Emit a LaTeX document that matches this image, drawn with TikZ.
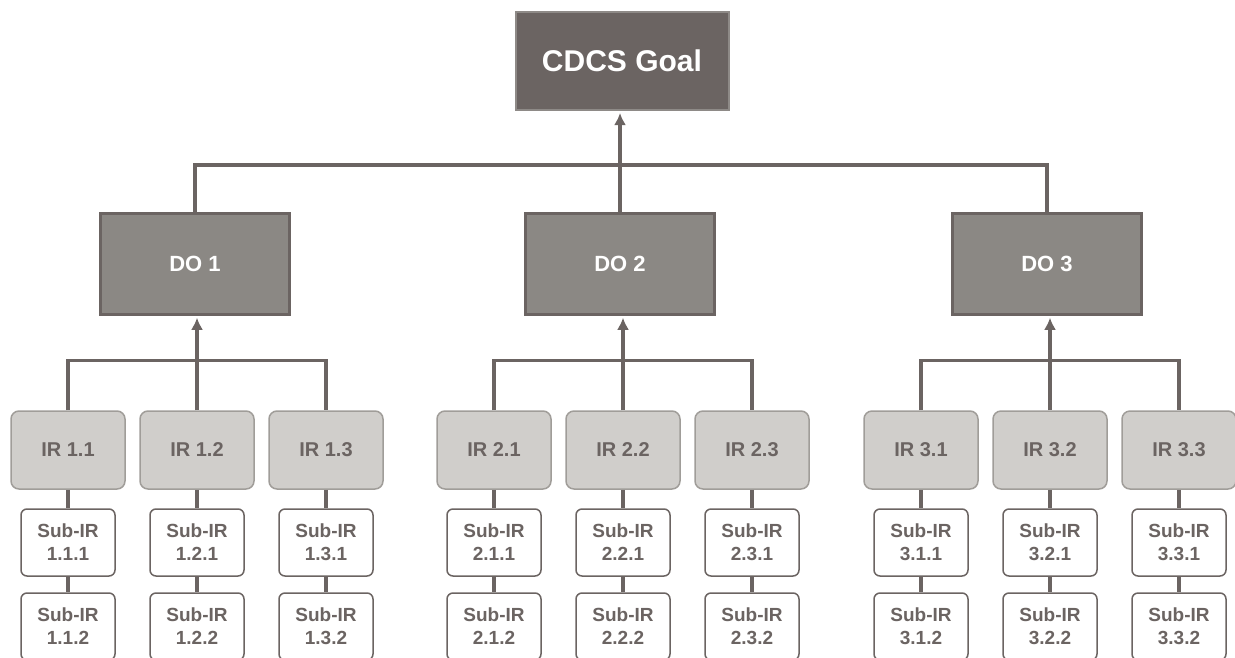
\documentclass[tikz,border=0pt]{standalone}
\usepackage{fontspec}
\setmainfont{Liberation Sans}
\usetikzlibrary{arrows.meta,positioning}

\definecolor{goalfill}{HTML}{6B6462}
\definecolor{goalline}{HTML}{8E8A87}
\definecolor{dofill}{HTML}{8B8884}
\definecolor{irfill}{HTML}{D0CECB}
\definecolor{irline}{HTML}{A09D99}
\definecolor{ink}{HTML}{6B6462}

\tikzset{
  goalbox/.style={draw=goalline, line width=2pt, fill=goalfill, text=white,
    minimum width=213pt, minimum height=98pt, font=\fontsize{30}{36}\selectfont\bfseries},
  dobox/.style={draw=ink, line width=2.5pt, fill=dofill, text=white,
    minimum width=189pt, minimum height=101pt, font=\fontsize{22}{26}\selectfont\bfseries},
  irbox/.style={draw=irline, line width=1.5pt, fill=irfill, text=ink, rounded corners=8pt,
    minimum width=114pt, minimum height=78pt, font=\fontsize{20}{24}\selectfont\bfseries},
  subbox/.style={draw=ink, line width=1.5pt, fill=white, text=ink, rounded corners=6pt,
    minimum width=94pt, minimum height=67pt, align=center, font=\fontsize{19}{23}\selectfont\bfseries},
  link/.style={draw=ink, line width=3.3pt},
  up/.style={link, shorten >=2pt, -{Latex[length=12pt, width=12pt]}}
}

\begin{document}
\begin{tikzpicture}[x=1pt, y=-1pt]
  \useasboundingbox (0,0) rectangle (1235,657);
  \clip (0,0) rectangle (1235,657);

  % goal and development objectives
  \node[goalbox] (goal) at (622,61) {CDCS Goal};
  \foreach \g/\dx in {1/195,2/620,3/1047}
    \node[dobox] (do\g) at (\dx,264) {DO \g};

  % intermediate results and sub-results
  \foreach \g/\gx in {1/68,2/494,3/921} {
    \foreach \i in {1,2,3} {
      \pgfmathsetmacro{\ix}{\gx+(\i-1)*129}
      \node[irbox] (ir\g\i) at (\ix,450) {IR \g.\i};
      \node[subbox] (sub\g\i1) at (\ix,542.5) {Sub-IR\\\g.\i.1};
      \node[subbox] (sub\g\i2) at (\ix,626.5) {Sub-IR\\\g.\i.2};
      \draw[link] (ir\g\i.south) -- (sub\g\i1.north);
      \draw[link] (sub\g\i1.south) -- (sub\g\i2.north);
    }
  }

  % connectors
  \coordinate (bar) at (622,165);
  \draw[link] (do1.north) |- (bar) -| (do3.north);
  \draw[up] (do2.north) -- (do2.north |- goal.south);
  \foreach \g in {1,2,3} {
    \draw[link] (ir\g1.north) -- ++(0,-50) -| (ir\g3.north);
    \draw[up] (ir\g2.north) -- (ir\g2.north |- do\g.south);
  }
\end{tikzpicture}
\end{document}
